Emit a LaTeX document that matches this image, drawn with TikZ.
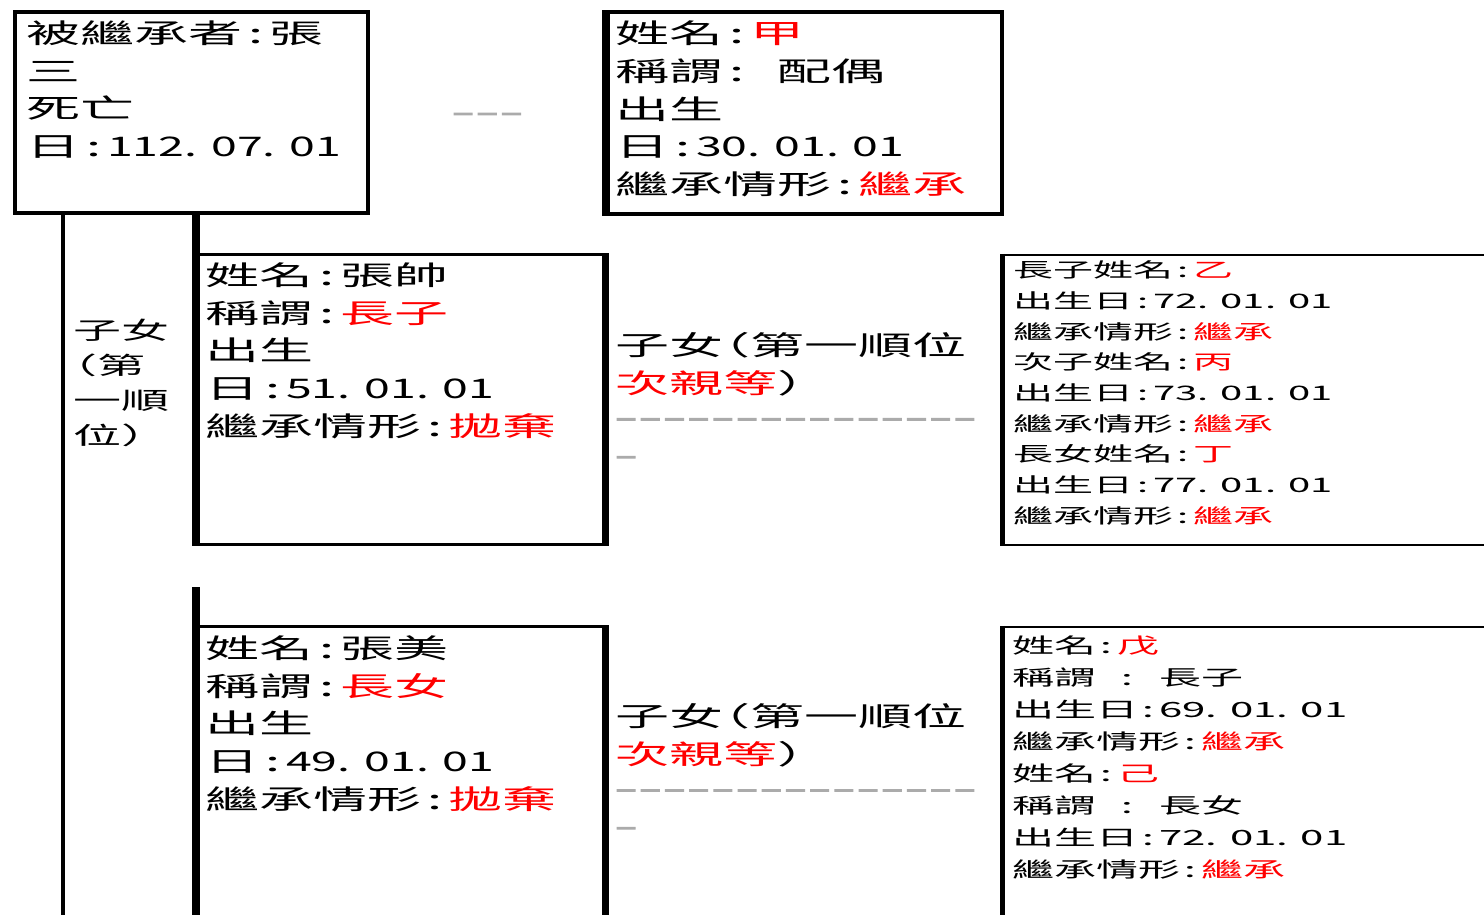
\documentclass[tikz,border=0pt]{standalone}
\usepackage{fontspec}
\newfontfamily\cjk[FakeStretch=2]{Noto Sans CJK TC}
\newfontfamily\cjkd[FakeStretch=1.72]{Noto Sans CJK TC}
\newfontfamily\cjkh[FakeStretch=1.5,FakeBold=4]{Noto Sans CJK TC}
\newcommand\hwd{\dimexpr\fontcharwd\font"4E00/2\relax}
\newcommand\hw[1]{\makebox[\hwd][c]{#1}}
\newcommand\lp{\makebox[\hwd][r]{（}}
\newcommand\rp{\makebox[\hwd][l]{）}}
\newcommand\dt[1]{{\cjkd #1}}
\newcommand\dsh{\makebox[24.2pt][l]{\raisebox{4pt}{\cjkh\fontsize{27}{27}\selectfont\color{black!33}–}}}
\newcommand\rd[1]{\textcolor{red}{#1}}
\begin{document}
\begin{tikzpicture}[x=1pt,y=-1pt,
  bx/.style={draw,inner sep=0pt,outer sep=0pt,anchor=north west},
  tbig/.style={anchor=north west,inner sep=0pt,align=left,font=\cjk\fontsize{27}{37.8}\selectfont},
  tsml/.style={anchor=north west,inner sep=0pt,align=left,font=\cjk\fontsize{20}{#1}\selectfont},
  tsmb/.style={anchor=north west,inner sep=0pt,align=left,font=\cjk\fontsize{21}{#1}\selectfont},
  tlab/.style={anchor=north west,inner sep=0pt,align=left,font=\cjk\fontsize{24}{35}\selectfont}]
\useasboundingbox (0,0) rectangle (1484,915);
\clip (0,0) rectangle (1484,915);
% boxes
\node[bx,line width=4pt,minimum width=353pt,minimum height=201pt] (b1) at (15,12) {};
\node[bx,line width=4pt,minimum width=396pt,minimum height=201pt] (b2) at (606,12.5) {};
\draw[line width=8pt,shorten <=-2pt,shorten >=-2pt] (b2.north west) -- (b2.south west);
\node[bx,line width=3pt,minimum width=409.5pt,minimum height=290pt] (b3) at (196,254.5) {};
\draw[line width=8pt,shorten >=-1.5pt] (b3.west |- b1.south) -- (b3.south west);
\draw[line width=7pt,shorten <=-1.5pt,shorten >=-1.5pt] (b3.north east) -- (b3.south east);
\node[bx,line width=2.5pt,minimum width=520pt,minimum height=290pt] (b4) at (1002.5,255) {};
\draw[line width=5pt,shorten <=-1.25pt,shorten >=-1.25pt] (b4.north west) -- (b4.south west);
\node[bx,line width=3pt,minimum width=409.5pt,minimum height=330pt] (b5) at (196,626.5) {};
\coordinate (c5) at (196,587);
\draw[line width=8pt] (c5) -- (b5.south west);
\draw[line width=7pt,shorten <=-1.5pt] (b5.north east) -- (b5.south east);
\node[bx,line width=2.5pt,minimum width=520pt,minimum height=330pt] (b6) at (1002.5,627) {};
\draw[line width=5pt,shorten <=-1.25pt] (b6.north west) -- (b6.south west);
\coordinate (lend) at (63,930);
\draw[line width=3.5pt] (b1.south -| lend) -- (lend);
% texts
\node[tbig] (t1) at (26,16.7) {\strut 被繼承者\hw{:}張\\三\\死亡\\日\hw{:}\dt{112. 07. 01}};
\node[anchor=base west,inner sep=0pt,font=\cjk] (sp) at (452,125.7) {\dsh\dsh\dsh};
\node[tbig] (t2) at (615,16.8) {\strut 姓名\hw{:}\rd{甲}\\稱謂\hw{:}\hw{ }配偶\\出生\\日\hw{:}\dt{30. 01. 01}\\繼承情形\hw{:}\rd{繼承}};
\node[tlab] (lb) at (73,314.6) {\strut 子女\\\lp 第\\一順\\位\rp};
\node[tbig] (t3) at (205,258.7) {\strut 姓名\hw{:}張帥\\稱謂\hw{:}\rd{長子}\\出生\\日\hw{:}\dt{51. 01. 01}\\繼承情形\hw{:}\rd{拋棄}};
\node[tbig] (m1) at (615,328.7) {\strut 子女\lp 第一順位\\\rd{次親等}\rp\\\dsh\dsh\dsh\dsh\dsh\dsh\dsh\dsh\dsh\dsh\dsh\dsh\dsh\dsh\dsh\\\dsh};
\node[tsml=30.7] (t4) at (1013,256.1) {\strut 長子姓名\hw{:}\rd{乙}\\出生日\hw{:}72. 01. 01\\繼承情形\hw{:}\rd{繼承}\\次子姓名\hw{:}\rd{丙}\\出生日\hw{:}73. 01. 01\\繼承情形\hw{:}\rd{繼承}\\長女姓名\hw{:}\rd{丁}\\出生日\hw{:}77. 01. 01\\繼承情形\hw{:}\rd{繼承}};
\node[tbig] (t5) at (205,631.7) {\strut 姓名\hw{:}張美\\稱謂\hw{:}\rd{長女}\\出生\\日\hw{:}\dt{49. 01. 01}\\繼承情形\hw{:}\rd{拋棄}};
\node[tbig] (m2) at (615,699.7) {\strut 子女\lp 第一順位\\\rd{次親等}\rp\\\dsh\dsh\dsh\dsh\dsh\dsh\dsh\dsh\dsh\dsh\dsh\dsh\dsh\dsh\dsh\\\dsh};
\node[tsmb=32] (t6) at (1012,630.6) {\strut 姓名\hw{:}\rd{戊}\\稱謂\hw{ }\hw{:}\hw{ }長子\\出生日\hw{:}69. 01. 01\\繼承情形\hw{:}\rd{繼承}\\姓名\hw{:}\rd{己}\\稱謂\hw{ }\hw{:}\hw{ }長女\\出生日\hw{:}72. 01. 01\\繼承情形\hw{:}\rd{繼承}};
\end{tikzpicture}
\end{document}
